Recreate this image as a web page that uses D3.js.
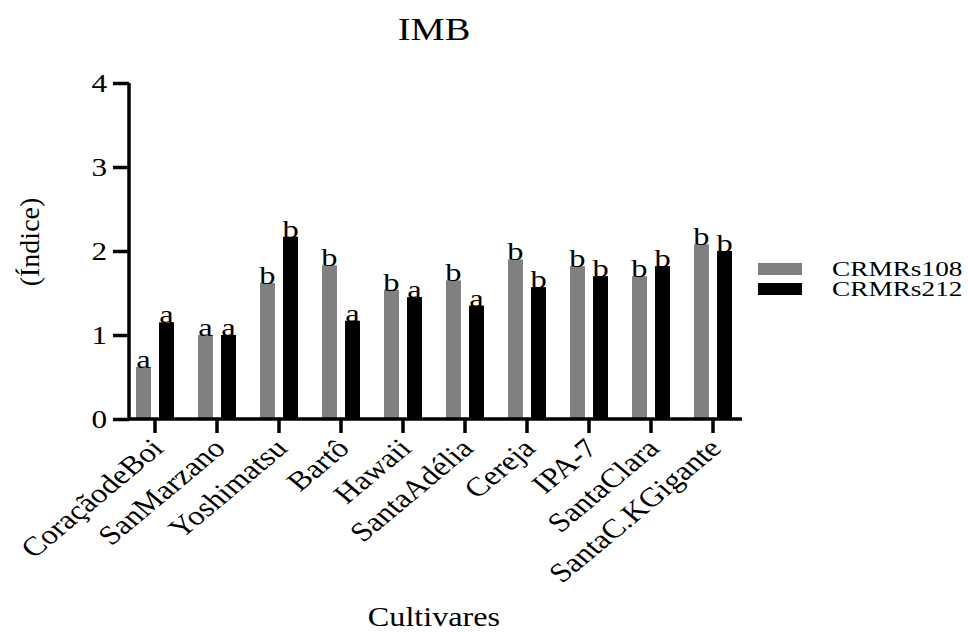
<!DOCTYPE html>
<html>
<head>
<meta charset="utf-8">
<script src="https://cdn.jsdelivr.net/npm/d3@7"></script>
<style>
  body { margin: 0; background: #fff; }
  svg text { font-family: "Liberation Serif", "Times New Roman", serif; fill: #000; }
</style>
</head>
<body>
<svg id="chart"></svg>
<script>
// data
const cultivars = ["CoraçãodeBoi", "SanMarzano", "Yoshimatsu", "Bartô", "Hawaii",
  "SantaAdélia", "Cereja", "IPA-7", "SantaClara", "SantaC.KGigante"];
const series = ["CRMRs108", "CRMRs212"];
const crmrs108 = [0.62, 1.0, 1.62, 1.83, 1.54, 1.65, 1.90, 1.82, 1.70, 2.08];
const crmrs212 = [1.15, 1.0, 2.17, 1.17, 1.45, 1.35, 1.57, 1.70, 1.82, 2.00];
const letters108 = ["a", "a", "b", "b", "b", "b", "b", "b", "b", "b"];
const letters212 = ["a", "a", "b", "a", "a", "a", "b", "b", "b", "b"];
const yTicks = [0, 1, 2, 3, 4];

const width = 968, height = 633;
const colors = ["#808080", "#000000"];
const SX = 1.2; // the text in the original looks a bit wide

const svg = d3.select("#chart")
  .attr("width", width)
  .attr("height", height);

// scales
const x = d3.scaleBand()
  .domain(cultivars)
  .range([124, 744]);

const x1 = d3.scaleBand()
  .domain(series)
  .range([x.bandwidth() / 2 - 19, x.bandwidth() / 2 + 19])
  .paddingInner(0.35);

const y = d3.scaleLinear()
  .domain([0, 4])
  .range([419, 83]);

// bars
const rows = cultivars.map((c, i) => ({
  name: c,
  vals: [
    { s: series[0], v: crmrs108[i], l: letters108[i] },
    { s: series[1], v: crmrs212[i], l: letters212[i] }
  ]
}));

const groups = svg.selectAll(".group")
  .data(rows)
  .enter().append("g")
  .attr("class", "group")
  .attr("transform", d => `translate(${x(d.name)},0)`);

groups.selectAll("rect")
  .data(d => d.vals)
  .enter().append("rect")
  .attr("x", d => x1(d.s))
  .attr("width", x1.bandwidth())
  .attr("y", d => y(d.v))
  .attr("height", d => y(0) - y(d.v))
  .attr("fill", (d, i) => colors[i]);

groups.selectAll(".letter")
  .data(d => d.vals)
  .enter().append("text")
  .attr("class", "letter")
  .attr("transform", d => `translate(${x1(d.s) + x1.bandwidth() / 2},${y(d.v) + 1}) scale(1.25,1)`)
  .attr("text-anchor", "middle")
  .attr("font-size", 26)
  .text(d => d.l);

// y axis
const yAxis = svg.append("g")
  .attr("transform", "translate(129,0)")
  .call(d3.axisLeft(y).tickValues(yTicks).tickFormat(d3.format("d")).tickSize(16).tickSizeOuter(0));

// x axis
const xAxis = svg.append("g")
  .attr("transform", "translate(0,419)")
  .call(d3.axisBottom(x).tickSize(14).tickSizeOuter(0));

[yAxis, xAxis].forEach(a => {
  a.attr("font-family", null);
  a.select(".domain").attr("stroke-width", 3.5);
  a.selectAll(".tick line").attr("stroke-width", 3.5);
});
xAxis.select(".domain").attr("d", "M128,0H742");
yAxis.select(".domain").attr("d", "M0,419V83");

yAxis.selectAll(".tick text")
  .attr("x", null)
  .attr("dy", "0.34em")
  .attr("font-size", 26)
  .attr("transform", `translate(-22,0) scale(${SX},1)`);

xAxis.selectAll(".tick text")
  .attr("y", null)
  .attr("dy", 0)
  .attr("text-anchor", "end")
  .attr("font-size", 27)
  .attr("transform", `translate(10,31) scale(${SX},1) rotate(-45)`);

// titles
svg.append("text")
  .attr("transform", "translate(434,40) scale(1.2,1)")
  .attr("text-anchor", "middle")
  .attr("font-size", 32)
  .text("IMB");

svg.append("text")
  .attr("transform", "translate(39,242) rotate(-90)")
  .attr("text-anchor", "middle")
  .attr("font-size", 28)
  .text("(Índice)");

svg.append("text")
  .attr("transform", "translate(434,626) scale(1.15,1)")
  .attr("text-anchor", "middle")
  .attr("font-size", 28)
  .text("Cultivares");

// legend
const legend = svg.selectAll(".legend")
  .data(series)
  .enter().append("g")
  .attr("class", "legend")
  .attr("transform", (d, i) => `translate(758,${263 + i * 20})`);

legend.append("rect")
  .attr("width", 44)
  .attr("height", 12)
  .attr("fill", (d, i) => colors[i]);

legend.append("text")
  .attr("transform", "translate(74,13) scale(1.3,1)")
  .attr("font-size", 21)
  .text(d => d);
</script>
</body>
</html>
